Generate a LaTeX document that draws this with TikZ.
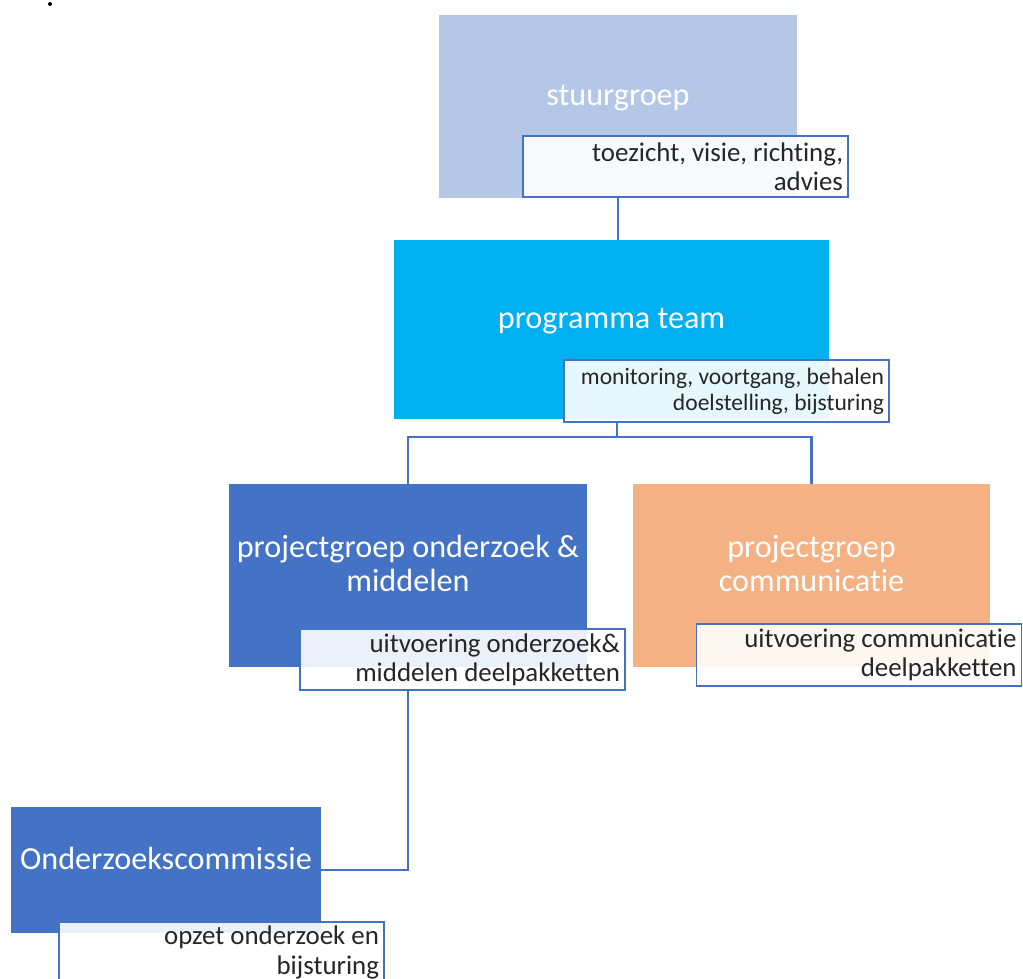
\documentclass[tikz,border=0pt]{standalone}
\usepackage{fontspec}
\setmainfont[Ligatures=NoCommon]{Carlito}
\definecolor{stuurblue}{HTML}{B4C7E7}
\definecolor{teamblue}{HTML}{00B0F0}
\definecolor{groepblue}{HTML}{4472C4}
\definecolor{groeporange}{HTML}{F4B183}
\tikzset{
  groupbox/.style={draw=none, rectangle, inner sep=0pt},
  boxtext/.style={text=white, align=center, yshift=0.24cm, font=\fontsize{18.3}{19}\selectfont},
  notebox/.style={draw=groepblue, line width=1.1pt, fill=white, fill opacity=0.9, text opacity=1,
    minimum width=6.5cm, minimum height=1.22cm, inner xsep=0.1cm, inner ysep=0pt,
    text width=6.3cm, align=flush right, font=\fontsize{15.3}{16.6}\selectfont, text=black!85},
  link/.style={draw=groepblue, line width=1.2pt}
}
\begin{document}
\begin{tikzpicture}
\useasboundingbox (0,0) rectangle (20.46,-19.58);
\clip (0,0) rectangle (20.46,-19.58);
\fill (1.0,-0.08) circle (0.04);

\node[groupbox, fill=stuurblue, minimum width=7.16cm, minimum height=3.66cm,
  label={[boxtext, yshift=-0.08cm]center:stuurgroep}] (stuur) at (12.36,-2.13) {};
\node[notebox] (stuurnote) at (13.71,-3.33) {toezicht, visie, richting,\\advies};

\node[groupbox, fill=teamblue, minimum width=8.7cm, minimum height=3.58cm,
  label={[boxtext, yshift=-0.08cm]center:programma team}] (team) at (12.23,-6.59) {};
\node[notebox, minimum height=1.24cm, font=\fontsize{13.4}{14.9}\selectfont] (teamnote) at (14.53,-7.82) {monitoring, voortgang, behalen\\doelstelling, bijsturing};

\node[groupbox, fill=groepblue, minimum width=7.16cm, minimum height=3.66cm,
  label={[boxtext]center:projectgroep onderzoek \&\\middelen}] (pgo) at (8.16,-11.51) {};
\node[notebox] (pgonote) at (9.25,-13.19) {uitvoering onderzoek\&\\middelen deelpakketten};

\node[groupbox, fill=groeporange, minimum width=7.14cm, minimum height=3.66cm,
  label={[boxtext]center:projectgroep\\communicatie}] (pgc) at (16.23,-11.51) {};
\node[notebox, minimum height=1.24cm] (pgcnote) at (17.18,-13.10) {uitvoering communicatie\\deelpakketten};

\node[groupbox, fill=groepblue, minimum width=6.2cm, minimum height=2.52cm,
  label={[boxtext]center:Onderzoekscommissie}] (comm) at (3.32,-17.40) {};
\node[notebox] (commnote) at (4.43,-19.05) {opzet onderzoek en\\bijsturing};

% verbindingen
\coordinate (split) at (12.34,-8.74);
\draw[link] (stuur.south) -- (stuur.south |- team.north);
\draw[link] (split |- teamnote.south) -- (split) -| (pgo.north);
\draw[link] (split) -| (pgc.north);
\draw[link] (pgo.south |- pgonote.south) |- (comm.east);
\end{tikzpicture}
\end{document}
